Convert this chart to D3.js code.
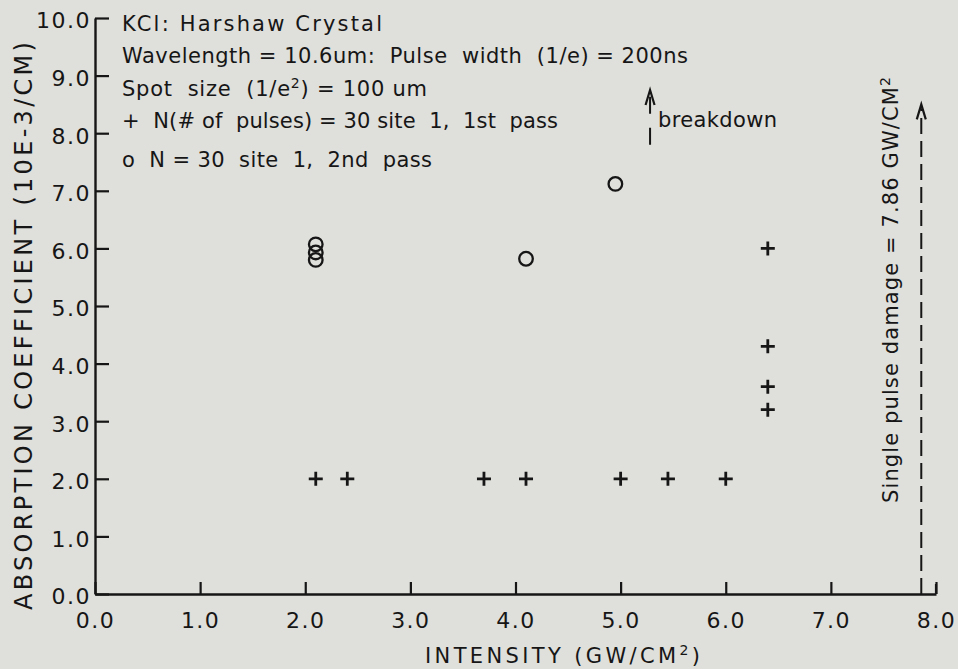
<!DOCTYPE html>
<html>
<head>
<meta charset="utf-8">
<script src="https://cdn.jsdelivr.net/npm/d3@7"></script>
<style>
  html, body { margin: 0; padding: 0; background: #dfdfdb; }
  svg { display: block; }
  text { font-family: "DejaVu Sans", sans-serif; fill: #161616; }
</style>
</head>
<body>
<svg id="chart" width="958" height="669"></svg>
<script>
// Axis ticks
const xTicks = [0, 1, 2, 3, 4, 5, 6, 7, 8];
const yTicks = [0, 1, 2, 3, 4, 5, 6, 7, 8, 9, 10];

// N = 30, site 1, 1st pass (+)
const pass1Intensity  = [2.1, 2.4, 3.7, 4.1, 5.0, 5.45, 6.0, 6.4, 6.4, 6.4, 6.4];
const pass1Absorption = [2.0, 2.0, 2.0, 2.0, 2.0, 2.0,  2.0, 6.0, 4.3, 3.6, 3.2];

// N = 30, site 1, 2nd pass (o)
const pass2Intensity  = [2.1, 2.1, 2.1, 4.1, 4.95];
const pass2Absorption = [6.07, 5.93, 5.8, 5.82, 7.12];

// Thresholds marked with dashed arrows
const damageIntensity = 7.86;      // single pulse damage, GW/cm^2
const damageArrowTop = 8.5;
const breakdownIntensity = 5.28;
const breakdownArrowTop = 8.75;
const breakdownArrowBottom = 7.8;

const svg = d3.select("#chart");
const x = d3.scaleLinear().domain([0, 8]).range([95, 936]);
const y = d3.scaleLinear().domain([0, 10]).range([594, 18]);
const fmt = d3.format(".1f");
const ink = "#161616";

// Axes: ticks point into the plot
const gx = svg.append("g")
  .attr("transform", `translate(0,${y(0)})`)
  .call(d3.axisBottom(x).tickValues(xTicks).tickFormat(fmt)
    .tickSizeInner(-12).tickSizeOuter(0).tickPadding(18));
const gy = svg.append("g")
  .attr("transform", `translate(${x(0)},0)`)
  .call(d3.axisLeft(y).tickValues(yTicks).tickFormat(fmt)
    .tickSizeInner(-14).tickSizeOuter(0).tickPadding(4));

[gx, gy].forEach(g => {
  g.select(".domain").attr("stroke", ink).attr("stroke-width", 2.4);
  g.selectAll(".tick line").attr("stroke", ink).attr("stroke-width", 2.2);
  g.selectAll(".tick text")
    .attr("fill", ink)
    .style("font-family", '"DejaVu Sans", sans-serif')
    .style("font-size", "22px")
    .style("letter-spacing", "1.5px");
});
gx.selectAll(".tick text").attr("dy", "0.72em");
gy.selectAll(".tick text").attr("dy", "0.45em");

// Axis titles
const xTitle = svg.append("text")
  .attr("x", 425).attr("y", 663)
  .style("font-size", "21px")
  .attr("textLength", 275).attr("lengthAdjust", "spacing");
xTitle.append("tspan").text("INTENSITY  (GW/CM");
xTitle.append("tspan").attr("dy", -8).style("font-size", "14px").text("2");
xTitle.append("tspan").attr("dy", 8).text(")");

svg.append("text")
  .attr("transform", "translate(32,610) rotate(-90)")
  .style("font-size", "24px")
  .attr("textLength", 568).attr("lengthAdjust", "spacing")
  .text("ABSORPTION  COEFFICIENT  (10E-3/CM)");

// Header / legend block
const info = [
  { base: 31,  parts: [["KCl: Harshaw Crystal", 0]], width: 260 },
  { base: 63,  parts: [["Wavelength = 10.6um:  Pulse  width  (1/e) = 200ns", 0]], width: 566 },
  { base: 96,  parts: [["Spot  size  (1/e", 0], ["2", -8], [") = 100 um", 8]], width: 305 },
  { base: 128, parts: [["+  N(# of  pulses) = 30 site  1,  1st  pass", 0]], width: 436 },
  { base: 167, parts: [["o  N = 30  site  1,  2nd  pass", 0]], width: 310 }
];
info.forEach(row => {
  const t = svg.append("text")
    .attr("x", 122).attr("y", row.base)
    .style("font-size", "21px")
    .style("white-space", "pre")
    .attr("textLength", row.width).attr("lengthAdjust", "spacing");
  row.parts.forEach(([s, dy]) => {
    const sp = t.append("tspan").attr("dy", dy).text(s);
    if (dy < 0) sp.style("font-size", "14px");
  });
});

// Data marks
const plot = svg.append("g");
plot.selectAll("path.plus")
  .data(d3.zip(pass1Intensity, pass1Absorption))
  .join("path")
  .attr("class", "plus")
  .attr("transform", d => `translate(${x(d[0])},${y(d[1])})`)
  .attr("d", "M-7,0H7M0,-7V7")
  .attr("stroke", ink).attr("stroke-width", 2.8).attr("fill", "none");

plot.selectAll("circle.open")
  .data(d3.zip(pass2Intensity, pass2Absorption))
  .join("circle")
  .attr("class", "open")
  .attr("cx", d => x(d[0])).attr("cy", d => y(d[1]))
  .attr("r", 6.8)
  .attr("stroke", ink).attr("stroke-width", 2.3).attr("fill", "none");

// Dashed arrows
function dashedArrow(xv, yTop, yBottom, dash) {
  const g = svg.append("g").attr("stroke", ink).attr("fill", "none").attr("stroke-width", 2);
  const px = x(xv), top = y(yTop), bot = y(yBottom);
  g.append("line")
    .attr("x1", px).attr("x2", px)
    .attr("y1", bot).attr("y2", top + 4)
    .attr("stroke-dasharray", dash);
  g.append("path")
    .attr("d", `M${px - 4.5},${top + 15}L${px},${top}L${px + 4.5},${top + 15}`)
    .attr("stroke-width", 2.2);
}
dashedArrow(damageIntensity, damageArrowTop, 0, "16,7");
dashedArrow(breakdownIntensity, breakdownArrowTop, breakdownArrowBottom, "17,14");

// End tick at right of the x axis
svg.append("line")
  .attr("x1", x(8)).attr("x2", x(8))
  .attr("y1", y(0)).attr("y2", y(0) - 10)
  .attr("stroke", ink).attr("stroke-width", 2.2);

svg.append("text")
  .attr("x", 658).attr("y", 127)
  .style("font-size", "21px")
  .attr("textLength", 119).attr("lengthAdjust", "spacing")
  .text("breakdown");

const dmg = svg.append("text")
  .attr("transform", "translate(898,503) rotate(-90)")
  .style("font-size", "21px")
  .attr("textLength", 426).attr("lengthAdjust", "spacing");
dmg.append("tspan").text(`Single  pulse  damage = ${damageIntensity.toFixed(2)}  GW/CM`);
dmg.append("tspan").attr("dy", -8).style("font-size", "14px").text("2");
</script>
</body>
</html>
